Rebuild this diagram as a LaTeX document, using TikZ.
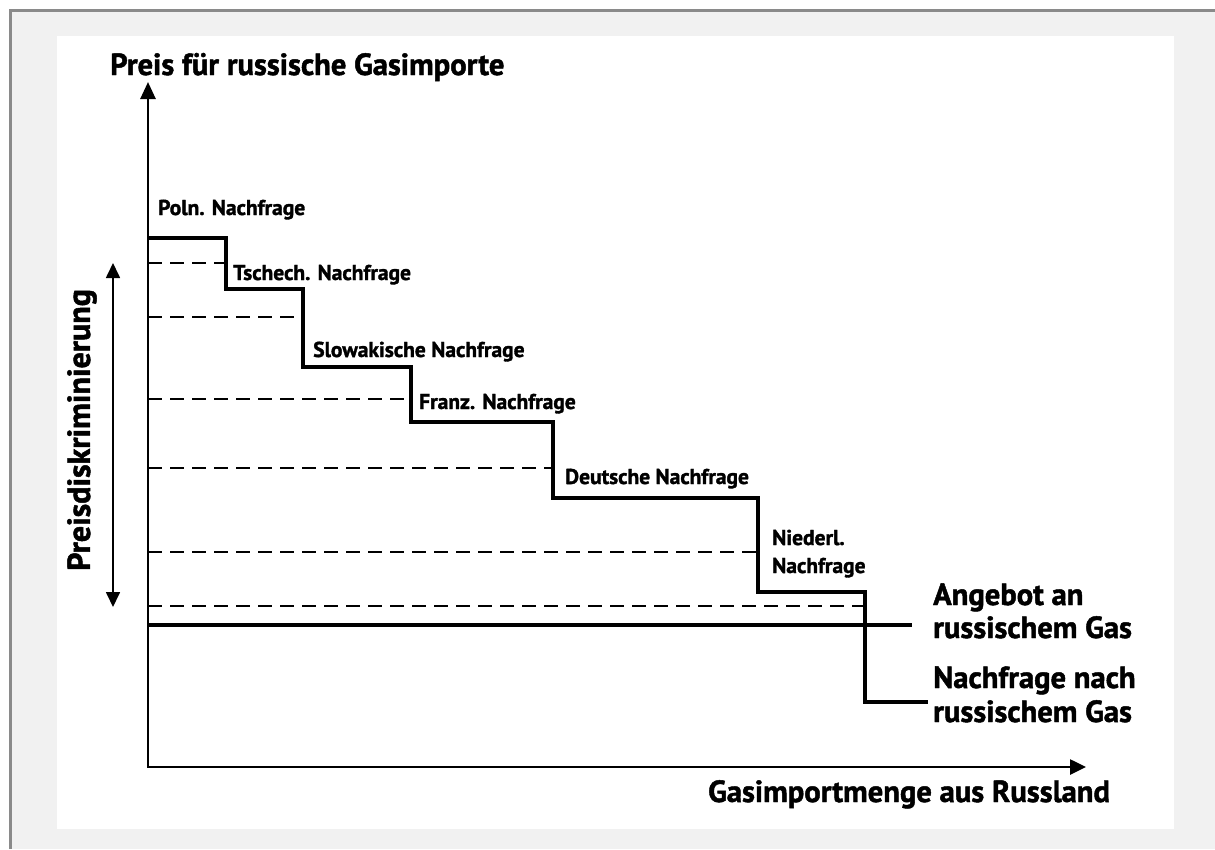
\documentclass[tikz,border=0pt]{standalone}
\usepackage{fontspec}
\setmainfont{PT Sans}[BoldFeatures={FakeBold=1.5}]
\usetikzlibrary{arrows.meta}
\definecolor{panelgray}{HTML}{F1F1F1}
\definecolor{framegray}{HTML}{8A8A8A}
\begin{document}
\begin{tikzpicture}[x=1pt,y=-1pt,
  lbl/.style={font=\bfseries\fontsize{21.5}{24}\selectfont, anchor=base west, inner sep=0pt},
  biglbl/.style={font=\bfseries\fontsize{30.6}{33}\selectfont, anchor=base west, inner sep=0pt},
  stair/.style={line width=3.2pt, line join=miter, line cap=butt},
  dashline/.style={line width=1.6pt, dash pattern=on 14pt off 8pt},
  axisline/.style={line width=2.6pt, line join=miter},
]
\useasboundingbox (0,0) rectangle (1215,849);
\fill[white] (0,0) rectangle (1215,849);
\fill[panelgray] (10.7,10.7) rectangle (1215,849);
\draw[framegray, line width=2.5pt] (10.7,849) -- (10.7,10.7) -- (1215,10.7);
\fill[white] (57,36) rectangle (1174,829);

% axes
\coordinate (o) at (148,767);
\coordinate (ytip) at (148,82);
\coordinate (xtip) at (1086,767);
\draw[axisline, {Triangle[width=15pt,length=17pt]}-{Triangle[width=15pt,length=16pt]}] (ytip) -- (o) -- (xtip);

% dashed levels
\draw[dashline] (148,263) -- (226,263);
\draw[dashline] (148,317) -- (303,317);
\draw[dashline] (148,399) -- (411,399);
\draw[dashline] (148,468) -- (553,468);
\draw[dashline] (148,552) -- (758,552);
\draw[dashline] (148,606) -- (865,606);

% supply
\coordinate (s0) at (148,625);
\coordinate (s1) at (912,625);
\draw[stair] (s0) -- (s1);

% demand staircase
\draw[stair] (148,238) -- (226,238) -- (226,289) -- (303,289) -- (303,367) -- (411,367)
  -- (411,422) -- (553,422) -- (553,498) -- (758,498) -- (758,592) -- (865,592)
  -- (865,702) -- (928,702);

% price discrimination arrow
\coordinate (pd1) at (113,263);
\coordinate (pd2) at (113,607);
\draw[line width=1.7pt, {Triangle[width=14pt,length=15pt]}-{Triangle[width=14pt,length=15pt]}] (pd1) -- (pd2);
\node[font=\bfseries\fontsize{32}{34}\selectfont, rotate=90, inner sep=0pt] (pdl) at (82,430) {Preisdiskriminierung};

% labels
\node[biglbl] (ylab) at (110,75) {Preis für russische Gasimporte};
\node[biglbl] (xlab) at (708,802) {Gasimportmenge aus Russland};
\node[biglbl] (ang1) at (933,605) {Angebot an};
\node[biglbl] (ang2) at (933,638) {russischem Gas};
\node[biglbl] (nf1) at (933,688) {Nachfrage nach};
\node[biglbl] (nf2) at (933,722) {russischem Gas};

\node[lbl] (pl) at (158,215) {Poln. Nachfrage};
\node[lbl] (cz) at (233,280) {Tschech. Nachfrage};
\node[lbl] (sk) at (313,357) {Slowakische Nachfrage};
\node[lbl] (fr) at (419,409) {Franz. Nachfrage};
\node[lbl] (de) at (565,484) {Deutsche Nachfrage};
\node[lbl] (nl1) at (772,545) {Niederl.};
\node[lbl] (nl2) at (772,573) {Nachfrage};
\end{tikzpicture}
\end{document}
